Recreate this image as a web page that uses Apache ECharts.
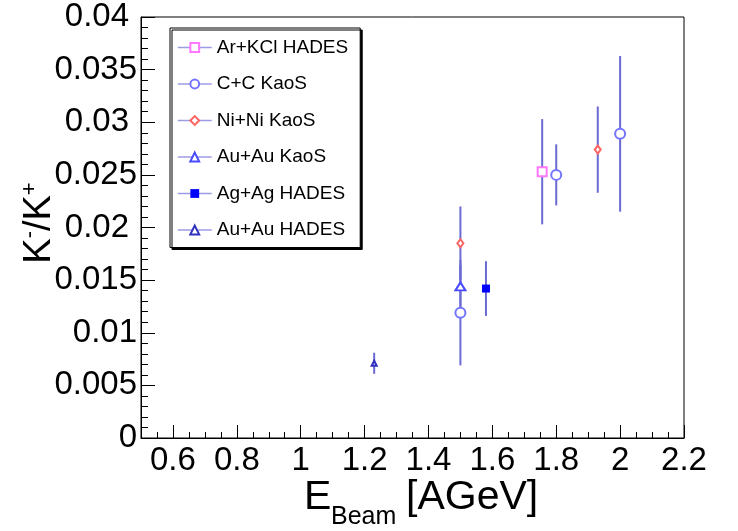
<!DOCTYPE html>
<html>
<head>
<meta charset="utf-8">
<script src="https://cdn.jsdelivr.net/npm/echarts@6/dist/echarts.min.js"></script>
<style>
html,body{margin:0;padding:0;background:#fff;}
#main{width:738px;height:531px;}
</style>
</head>
<body>
<div id="main"></div>
<script>
// ---- data ----
const seriesNames = ['Ar+KCl HADES', 'C+C KaoS', 'Ni+Ni KaoS', 'Au+Au KaoS', 'Ag+Ag HADES', 'Au+Au HADES'];
const arKclX = [1.756];            const arKclY = [0.0253];                 const arKclErr = [0.0050];
const ccX = [1.5, 1.8, 2.0];       const ccY = [0.0119, 0.0250, 0.0289];    const ccErr = [0.0050, 0.0029, 0.0074];
const niNiX = [1.5, 1.93];         const niNiY = [0.0185, 0.0274];          const niNiErr = [0.0035, 0.0041];
const auAuKaosX = [1.5];           const auAuKaosY = [0.0144];              const auAuKaosErr = [0.0020];
const agAgX = [1.58];              const agAgY = [0.0142];                  const agAgErr = [0.0026];
const auAuHadesX = [1.23];         const auAuHadesY = [0.0071];             const auAuHadesErr = [0.0010];

const groups = [
  [arKclX, arKclY, arKclErr],
  [ccX, ccY, ccErr],
  [niNiX, niNiY, niNiErr],
  [auAuKaosX, auAuKaosY, auAuKaosErr],
  [agAgX, agAgY, agAgErr],
  [auAuHadesX, auAuHadesY, auAuHadesErr]
];

// ---- styles ----
const FONT = 'Liberation Sans';
const styles = [
  {symbol: 'emptyRect', size: 9, color: '#ff77ff'},
  {symbol: 'emptyCircle', size: 10, color: '#7474ff'},
  {symbol: 'emptyDiamond', size: [6, 8], color: '#ff6464'},
  {symbol: 'emptyTriangle', size: [10, 8], color: '#4848ff'},
  {symbol: 'rect', size: 8, color: '#0000ff'},
  {symbol: 'emptyTriangle', size: 5, color: '#3030c0'}
];
const barColor = '#6a6ad2';

const chart = echarts.init(document.getElementById('main'), null, {renderer: 'canvas'});

const series = [];
groups.forEach((g) => {
  const pts = g[0].map((x, i) => [x, g[1][i], g[2][i]]);
  series.push({
    type: 'custom',
    silent: true,
    z: 2,
    data: pts,
    renderItem: function (params, api) {
      const x = api.value(0), y = api.value(1), e = api.value(2);
      const p1 = api.coord([x, y + e]);
      const p2 = api.coord([x, y - e]);
      return {
        type: 'line',
        shape: {x1: p1[0], y1: p1[1], x2: p2[0], y2: p2[1]},
        style: {stroke: barColor, lineWidth: 2}
      };
    }
  });
});
groups.forEach((g, gi) => {
  const st = styles[gi];
  series.push({
    name: seriesNames[gi],
    type: 'line',
    z: 5,
    data: g[0].map((x, i) => [x, g[1][i]]),
    symbol: st.symbol,
    symbolSize: st.size,
    showSymbol: true,
    showAllSymbol: true,
    itemStyle: {color: st.color, borderWidth: 1},
    lineStyle: {width: 0, opacity: 0},
    emphasis: {disabled: true}
  });
});

chart.setOption({
  animation: false,
  backgroundColor: '#fff',
  textStyle: {fontFamily: FONT},
  grid: {left: 141, right: 54, top: 17, bottom: 93, show: true, borderColor: '#000', borderWidth: 1, backgroundColor: 'transparent'},
  legend: {
    data: seriesNames,
    orient: 'vertical',
    left: 170,
    top: 28,
    itemWidth: 34,
    itemHeight: 11,
    itemGap: 17.5,
    padding: [10, 12, 8, 7],
    backgroundColor: '#fff',
    borderColor: '#000',
    borderWidth: 1,
    borderRadius: 0,
    shadowColor: '#000',
    shadowBlur: 0,
    shadowOffsetX: 2,
    shadowOffsetY: 2,
    textStyle: {fontSize: 19, color: '#000', fontFamily: FONT},
    lineStyle: {color: '#9c9ce6', width: 1.5, opacity: 1},
    selectedMode: false
  },
  xAxis: {
    type: 'value',
    min: 0.5,
    max: 2.2,
    splitNumber: 8,
    axisLine: {show: true, lineStyle: {color: '#000', width: 1}},
    axisTick: {show: true, inside: true, length: 13, lineStyle: {color: '#000'}},
    minorTick: {show: true, splitNumber: 4, length: 6, lineStyle: {color: '#000'}},
    splitLine: {show: false},
    axisLabel: {
      fontSize: 33, color: '#000', fontFamily: FONT, margin: 6,
      formatter: function (v) { return (Math.abs(v - 0.5) < 1e-9) ? '' : String(v); }
    }
  },
  yAxis: {
    type: 'value',
    min: 0,
    max: 0.04,
    interval: 0.005,
    axisLine: {show: true, lineStyle: {color: '#000', width: 1}},
    axisTick: {show: true, inside: true, length: 14, lineStyle: {color: '#000'}},
    minorTick: {show: true, splitNumber: 5, length: 7, lineStyle: {color: '#000'}},
    splitLine: {show: false},
    axisLabel: {
      fontSize: 33, color: '#000', fontFamily: FONT, margin: 4,
      formatter: function (v) {
        const s = String(v);
        return (s === '0.04' || s === '0.03' || s === '0.02') ? '{p|' + s + '}' : s;
      },
      rich: {p: {fontSize: 33, color: '#000', fontFamily: FONT, padding: [0, 8, 0, 0]}}
    }
  },
  graphic: [
    {type: 'text', x: 304, y: 498, style: {text: 'E', fontSize: 41, fontFamily: FONT, fill: '#000', textVerticalAlign: 'middle'}},
    {type: 'text', x: 331, y: 517, style: {text: 'Beam', fontSize: 25, fontFamily: FONT, fill: '#000', textVerticalAlign: 'middle'}},
    {type: 'text', x: 406, y: 498, style: {text: '[AGeV]', fontSize: 41, fontFamily: FONT, fill: '#000', textVerticalAlign: 'middle'}},
    {
      type: 'text', x: 39, y: 223, rotation: Math.PI / 2,
      style: {
        text: '{k|K}{s|-}{k|/K}{s|+}',
        fill: '#000',
        textAlign: 'center',
        textVerticalAlign: 'middle',
        rich: {
          k: {fontSize: 38, fontFamily: FONT, color: '#000', lineHeight: 40, verticalAlign: 'bottom'},
          s: {fontSize: 22, fontFamily: FONT, color: '#000', lineHeight: 40, verticalAlign: 'top', padding: [0, 0, 14, 0]}
        }
      }
    }
  ],
  series: series
});
</script>
</body>
</html>
